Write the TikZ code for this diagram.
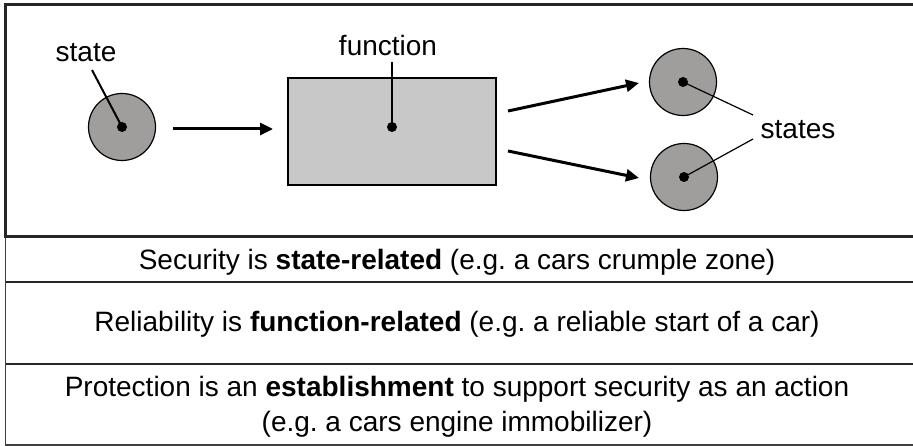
\documentclass[tikz,border=0pt]{standalone}
\usepackage{fontspec}
\setmainfont{Liberation Sans}
\frenchspacing
\usetikzlibrary{arrows.meta}
\definecolor{stategray}{RGB}{160,157,157}
\definecolor{funcgray}{RGB}{200,200,200}
\tikzset{
  statecirc/.style={circle, draw=black, line width=1.2pt, fill=stategray, minimum size=67pt, inner sep=0pt},
  funcbox/.style={draw=black, line width=1.2pt, fill=funcgray, minimum width=208pt, minimum height=107pt, inner sep=0pt},
  dotmark/.style={circle, fill=black, minimum size=10pt, inner sep=0pt},
  lbl/.style={inner sep=0pt, font=\fontsize{28}{34}\selectfont},
  rowtext/.style={inner sep=0pt, align=center, font=\fontsize{28}{35}\selectfont},
  flow/.style={line width=3pt, -{Triangle[length=13pt, width=12pt]}},
  leader/.style={line width=2pt},
  thinleader/.style={line width=1.2pt},
  frame/.style={line width=3pt, draw=black!85},
  rowline/.style={line width=1.6pt, draw=black!85}
}
\begin{document}
\begin{tikzpicture}[x=1pt, y=-1pt]
  \useasboundingbox (0,0) rectangle (913,446);
  \clip (0,0) rectangle (913,446);

  % table rows below the diagram
  \draw[line width=1.4pt, draw=black!75] (5.5,237) -- (5.5,445) -- (920,445);
  \draw[rowline] (5.5,282) -- (920,282);
  \draw[rowline] (5.5,364) -- (920,364);

  % diagram frame
  \draw[frame] (5.5,4.5) rectangle (920,237);

  % source state
  \node[statecirc] (s1) at (122,127) {};
  \node[dotmark] (d1) at (s1.center) {};
  \node[lbl] (l1) at (86,53) {state};
  \coordinate (l1end) at (92,70);
  \draw[leader] (l1end) -- (d1.center);

  % function
  \node[funcbox] (f) at (392,131.5) {};
  \coordinate (fc) at (392,127);
  \node[dotmark] (df) at (fc) {};
  \node[lbl] (lf) at (388,45) {function};
  \coordinate (lfend) at (392,62);
  \draw[leader] (lfend) -- (df.center);

  % resulting states
  \node[statecirc] (s2) at (683,82) {};
  \node[dotmark] (d2) at (s2.center) {};
  \node[statecirc] (s3) at (684,177) {};
  \node[dotmark] (d3) at (s3.center) {};
  \node[lbl] (ls) at (798,130) {states};
  \coordinate (ls2) at (753,115);
  \coordinate (ls3) at (753,139);
  \draw[thinleader] (d2.center) -- (ls2);
  \draw[thinleader] (d3.center) -- (ls3);

  % flow arrows
  \coordinate (a1s) at (173,129);
  \coordinate (a1e) at (273,129);
  \coordinate (a2s) at (508,111);
  \coordinate (a2e) at (639,83);
  \coordinate (a3s) at (508,151);
  \coordinate (a3e) at (639,178);
  \draw[flow] (a1s) -- (a1e);
  \draw[flow] (a2s) -- (a2e);
  \draw[flow] (a3s) -- (a3e);

  % row texts
  \node[rowtext, anchor=base] (r1) at (457,270) {Security is \textbf{state-related} (e.g. a cars crumple zone)};
  \node[rowtext, anchor=base] (r2) at (457,332) {Reliability is \textbf{function-related} (e.g. a reliable start of a car)};
  \node[rowtext] (r3) at (457,407) {Protection is an \textbf{establishment} to support security as an action\\(e.g. a cars engine immobilizer)};
\end{tikzpicture}
\end{document}
